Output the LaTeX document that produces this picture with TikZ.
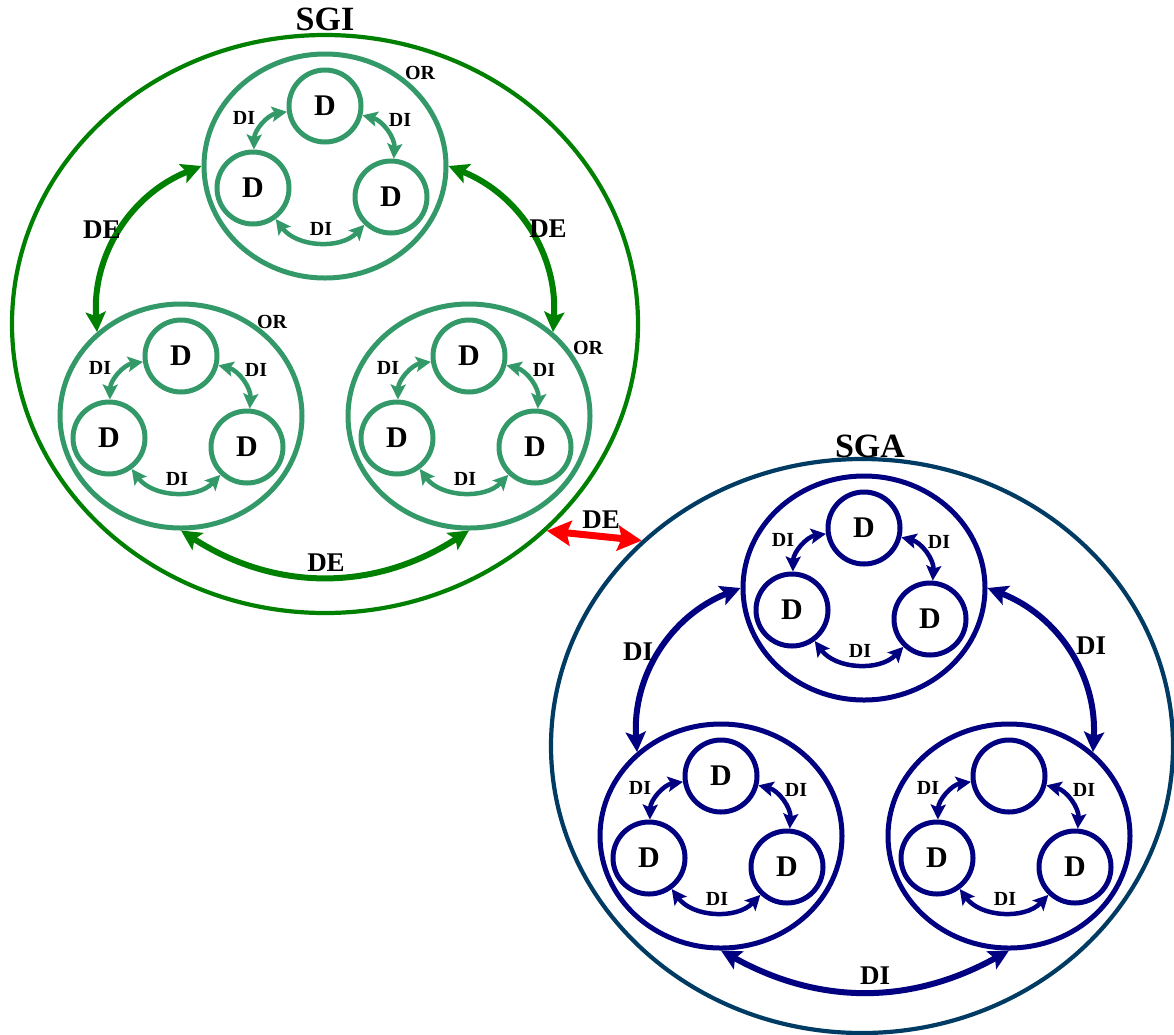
\documentclass[tikz,border=0pt]{standalone}
\usepackage{fontspec}
\setmainfont{Liberation Serif}
\usetikzlibrary{shapes.geometric,arrows.meta}
\definecolor{sgigreen}{RGB}{0,128,0}
\definecolor{orgreen}{RGB}{52,153,104}
\definecolor{sgablue}{RGB}{0,59,99}
\definecolor{sganavy}{RGB}{0,0,128}
\definecolor{linkred}{RGB}{255,0,0}
\newcommand{\dsize}{72pt}
\newcommand{\grpwidth}{242pt}
\newcommand{\grpheight}{224pt}
\newcommand{\ringwidth}{5pt}
\tikzset{
  system/.style={draw=#1,ellipse,line width=4.2pt,inner sep=0pt},
  grp/.style={draw=#1,ellipse,line width=\ringwidth,inner sep=0pt,minimum width=\grpwidth,minimum height=\grpheight},
  dnode/.style={draw=#1,circle,line width=\ringwidth,inner sep=0pt,minimum size=\dsize,font=\fontsize{30}{30}\selectfont\bfseries},
  diarrow/.style={draw=#1,line width=4.5pt,{Stealth[length=15pt,width=15pt,inset=3pt]}-{Stealth[length=15pt,width=15pt,inset=3pt]}},
  dearrow/.style={draw=#1,line width=6pt,{Stealth[length=20pt,width=20pt,inset=4pt]}-{Stealth[length=20pt,width=20pt,inset=4pt]}},
  linkarrow/.style={draw=linkred,line width=7pt,{Stealth[length=24pt,width=25pt,inset=4pt]}-{Stealth[length=24pt,width=25pt,inset=4pt]}},
  smalllabel/.style={inner sep=0pt,font=\fontsize{20}{20}\selectfont\bfseries},
  biglabel/.style={inner sep=0pt,font=\fontsize{27}{27}\selectfont\bfseries},
  syslabel/.style={inner sep=0pt,font=\fontsize{34}{34}\selectfont\bfseries}
}
% one group: name, x, y, colour, text of the top circle
\newcommand{\dgroup}[5]{%
  \node (#1) [grp=#4] at (#2,#3) {};
  \node (#1T) [dnode=#4] at (#2,\fpeval{#3-60}) {#5};
  \node (#1L) [dnode=#4] at (\fpeval{#2-72},\fpeval{#3+22}) {D};
  \node (#1R) [dnode=#4] at (\fpeval{#2+66},\fpeval{#3+31}) {D};
  \draw [diarrow=#4] (#1T) to[bend right=40] (#1L);
  \draw [diarrow=#4] (#1T) to[bend left=40] (#1R);
  \draw [diarrow=#4] (#1L) to[bend right=50] (#1R);
  \node (#1a) [smalllabel] at (\fpeval{#2-81},\fpeval{#3-48}) {DI};
  \node (#1b) [smalllabel] at (\fpeval{#2+75},\fpeval{#3-46}) {DI};
  \node (#1c) [smalllabel] at (\fpeval{#2-4},\fpeval{#3+63}) {DI};
}

\begin{document}
\begin{tikzpicture}[x=1pt,y=-1pt]
\useasboundingbox (0,0) rectangle (1174,1034);

% System nodes
\node (SGI) [system=sgigreen,minimum width=626pt,minimum height=578pt] at (325,324) {};
\node (SGA) [system=sgablue,minimum width=622pt,minimum height=574pt] at (862,746) {};
\node (SGIname) [syslabel] at (325,19) {SGI};
\node (SGAname) [syslabel] at (870,446) {SGA};

% Groups of D
\dgroup{gt}{325}{166}{orgreen}{D}
\dgroup{gl}{181}{416}{orgreen}{D}
\dgroup{gr}{469}{416}{orgreen}{D}
\dgroup{at}{864}{588}{sganavy}{D}
\dgroup{al}{721}{836}{sganavy}{D}
\dgroup{ar}{1009}{836}{sganavy}{}

% OR labels
\node (ORt) [smalllabel] at (420,73) {OR};
\node (ORl) [smalllabel] at (272,322) {OR};
\node (ORr) [smalllabel] at (588,348) {OR};

% Links between groups
\draw [dearrow=sgigreen] (gt.west) to[bend right=36] (gl.135);
\draw [dearrow=sgigreen] (gt.east) to[bend left=36] (gr.45);
\draw [dearrow=sgigreen] (gl.south) to[bend right=33] (gr.south);
\draw [dearrow=sganavy] (at.west) to[bend right=36] (al.135);
\draw [dearrow=sganavy] (at.east) to[bend left=36] (ar.45);
\draw [dearrow=sganavy] (al.south) to[bend right=29] (ar.south);
\draw [linkarrow] (SGI.317) -- (SGA.137);

% Label the links
\node (DEl) [biglabel] at (102,230) {DE};
\node (DEr) [biglabel] at (548,229) {DE};
\node (DEb) [biglabel] at (326,563) {DE};
\node (DIl) [biglabel] at (638,652) {DI};
\node (DIr) [biglabel] at (1091,646) {DI};
\node (DIb) [biglabel] at (875,976) {DI};
\node (DElink) [biglabel] at (601,520) {DE};

\end{tikzpicture}
\end{document}
